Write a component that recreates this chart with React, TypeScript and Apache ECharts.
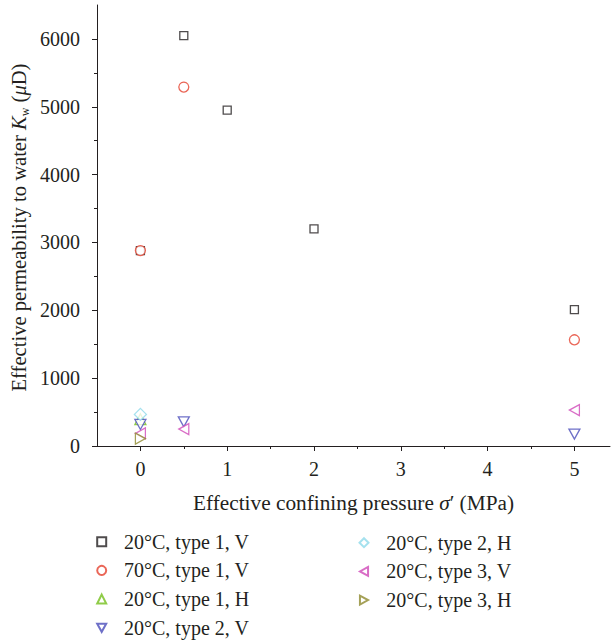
import React, { useEffect, useRef } from "react";
import * as echarts from "echarts";

// Effective confining pressure (MPa) and effective permeability (μD) for each sample set
const pT1V20 = [0, 0.5, 1, 2, 5];
const kT1V20 = [2880, 6050, 4950, 3200, 2010];
const pT1V70 = [0, 0.5, 5];
const kT1V70 = [2880, 5290, 1565];
const pT1H20 = [0];
const kT1H20 = [395];
const pT2V20 = [0, 0.5, 5];
const kT2V20 = [318, 357, 176];
const pT2H20 = [0];
const kT2H20 = [466];
const pT3V20 = [0, 0.5, 5];
const kT3V20 = [186, 250, 529];
const pT3H20 = [0];
const kT3H20 = [110];

const seriesNames = [
  "20°C, type 1, V",
  "70°C, type 1, V",
  "20°C, type 1, H",
  "20°C, type 2, V",
  "20°C, type 2, H",
  "20°C, type 3, V",
  "20°C, type 3, H",
];

const xMajorTicks = [0, 1, 2, 3, 4, 5];
const xMinorTicks = [0.5, 1.5, 2.5, 3.5, 4.5];
const yMajorTicks = [0, 1000, 2000, 3000, 4000, 5000, 6000];
const yMinorTicks = [500, 1500, 2500, 3500, 4500, 5500];

const FONT = "'Liberation Serif', 'DejaVu Serif', serif";
const INK = "#231f20";
const FS = 20;
const FS_XNAME = 21.3;
const FS_YNAME = 20.6;

const GRID_LEFT = 97;
const GRID_TOP = 5;
const GRID_RIGHT = 4;
const GRID_BOTTOM = 197;
const W = 614;
const H = 643;

const zip = (xs: number[], ys: number[]) => xs.map((x, i) => [x, ys[i]]);

export default function App() {
  const ref = useRef<HTMLDivElement>(null);
  useEffect(() => {
    document.body.style.margin = "0";
    if (!ref.current) return;
    const chart = echarts.init(ref.current, null, { renderer: "svg" });

    const mk = (
      name: string,
      data: number[][],
      color: string,
      symbol: string,
      size: number | number[]
    ) => ({
      type: "scatter",
      name,
      data,
      symbol,
      symbolSize: size,
      xAxisIndex: 0,
      yAxisIndex: 0,
      itemStyle: { color: "#ffffff", borderColor: color, borderWidth: 1.3 },
      emphasis: { disabled: true },
    });

    const series = [
      mk(seriesNames[0], zip(pT1V20, kT1V20), INK, "rect", 8),
      mk(seriesNames[1], zip(pT1V70, kT1V70), "#e5402d", "circle", 10),
      mk(seriesNames[2], zip(pT1H20, kT1H20), "#74bf1c", "triangle", 11),
      mk(seriesNames[3], zip(pT2V20, kT2V20), "#4a4cba", "path://M0,0L10,0L5,9Z", [11, 10]),
      mk(seriesNames[4], zip(pT2H20, kT2H20), "#8fd9ea", "diamond", 12),
      mk(seriesNames[5], zip(pT3V20, kT3V20), "#d048b8", "path://M9,0L9,10L0,5Z", [10, 11]),
      mk(seriesNames[6], zip(pT3H20, kT3H20), "#8e892e", "path://M0,0L0,10L9,5Z", [10, 11]),
    ];

    const legendCommon = {
      orient: "vertical",
      padding: 0,
      itemWidth: 9,
      itemHeight: 9,
      itemGap: 8.7,
      selectedMode: false,
      textStyle: {
        fontFamily: FONT,
        fontSize: FS,
        color: INK,
        lineHeight: 20,
        padding: [0, 0, 0, 12.8],
      },
    };

    const xBase = { type: "value", min: -0.5, max: 5.41, gridIndex: 0 };
    const yBase = { type: "value", min: 0, max: 6500, gridIndex: 0 };
    const plotH = H - GRID_TOP - GRID_BOTTOM;
    const plotW = W - GRID_LEFT - GRID_RIGHT;

    chart.setOption({
      animation: false,
      backgroundColor: "#ffffff",
      grid: { left: GRID_LEFT, top: GRID_TOP, right: GRID_RIGHT, bottom: GRID_BOTTOM, containLabel: false },
      legend: [
        { ...legendCommon, left: 96.2, top: 531.7, data: seriesNames.slice(0, 4) },
        { ...legendCommon, left: 358.5, top: 532.7, data: seriesNames.slice(4) },
      ],
      graphic: [
        {
          type: "text",
          x: 19,
          y: 227.5,
          rotation: Math.PI / 2,
          silent: true,
          style: {
            text: "Effective permeability to water {i|K}{sub|w} ({i|μ}D)",
            fontFamily: FONT,
            fontSize: FS_YNAME,
            fill: INK,
            align: "center",
            verticalAlign: "middle",
            lineHeight: 24,
            rich: {
              i: { fontFamily: FONT, fontSize: FS_YNAME, fontStyle: "italic", fill: INK, lineHeight: 24 },
              sub: { fontFamily: FONT, fontSize: 12, fill: INK, verticalAlign: "bottom", lineHeight: 24 },
            },
          },
        },
      ],
      xAxis: [
        {
          ...xBase,
          position: "bottom",
          name: "Effective confining pressure {i|σ}′ (MPa)",
          nameLocation: "middle",
          nameGap: 46,
          nameTextStyle: {
            fontFamily: FONT,
            fontSize: FS_XNAME,
            color: INK,
            rich: { i: { fontFamily: FONT, fontSize: FS_XNAME, fontStyle: "italic", color: INK } },
          },
          axisLine: { show: true, onZero: false, lineStyle: { color: INK, width: 1 } },
          axisTick: { show: true, length: 5, customValues: xMajorTicks, lineStyle: { color: INK } },
          axisLabel: {
            customValues: xMajorTicks,
            margin: 13,
            fontFamily: FONT,
            fontSize: FS,
            color: INK,
          },
          splitLine: { show: false },
        },
        {
          ...xBase,
          position: "top",
          offset: -plotH,
          axisLine: { show: false, onZero: false },
          axisTick: {
            show: true,
            inside: true,
            length: 3,
            customValues: xMinorTicks,
            lineStyle: { color: INK },
          },
          axisLabel: { show: false },
          splitLine: { show: false },
        },
      ],
      yAxis: [
        {
          ...yBase,
          position: "left",
          axisLine: { show: true, onZero: false, lineStyle: { color: INK, width: 1 } },
          axisTick: { show: true, length: 5, customValues: yMajorTicks, lineStyle: { color: INK } },
          axisLabel: {
            customValues: yMajorTicks,
            formatter: (v: number) => String(v),
            margin: 17,
            fontFamily: FONT,
            fontSize: FS,
            color: INK,
          },
          splitLine: { show: false },
        },
        {
          ...yBase,
          position: "right",
          offset: -plotW,
          axisLine: { show: false, onZero: false },
          axisTick: {
            show: true,
            inside: true,
            length: 3,
            customValues: yMinorTicks,
            lineStyle: { color: INK },
          },
          axisLabel: { show: false },
          splitLine: { show: false },
        },
      ],
      series,
    });
    return () => chart.dispose();
  }, []);
  return <div ref={ref} style={{ width: W, height: H }} />;
}
